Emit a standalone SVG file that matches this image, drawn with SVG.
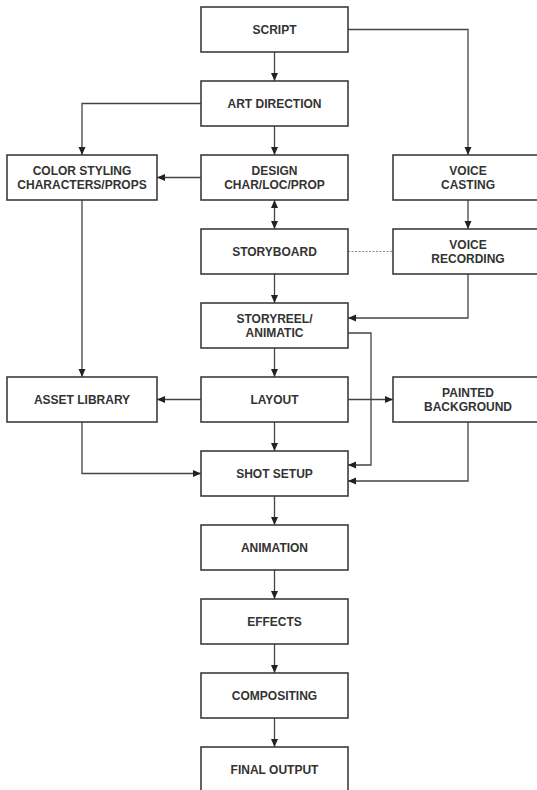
<svg xmlns="http://www.w3.org/2000/svg" width="537" height="790" viewBox="0 0 537 790">
<style>
.box{fill:#fff;stroke:#3c3c3c;stroke-width:1.6}
.t{font-family:"Liberation Sans",Arial,sans-serif;font-weight:bold;font-size:12px;fill:#333;text-anchor:middle}
.c{fill:none;stroke:#444;stroke-width:1.3}
.d{fill:none;stroke:#888;stroke-width:1.2;stroke-dasharray:2,1.5}
</style>
<defs>
<marker id="ah" markerUnits="userSpaceOnUse" markerWidth="8" markerHeight="8" refX="8" refY="4" orient="auto-start-reverse">
<path d="M0,0.5 L8,4 L0,7.5 z" fill="#222"/>
</marker>
</defs>
<rect width="537" height="790" fill="#fff"/>
<g id="connectors">
<path class="c" d="M274.5,52 V81" marker-end="url(#ah)"/>
<path class="c" d="M348,29.5 H468 V155" marker-end="url(#ah)"/>
<path class="c" d="M201,103.5 H82 V155" marker-end="url(#ah)"/>
<path class="c" d="M274.5,126 V155" marker-end="url(#ah)"/>
<path class="c" d="M201,177.5 H157" marker-end="url(#ah)"/>
<path class="c" d="M468,200 V229" marker-end="url(#ah)"/>
<path class="c" d="M274.5,200 V229" marker-start="url(#ah)" marker-end="url(#ah)"/>
<path class="d" d="M348,251.5 H393"/>
<path class="c" d="M274.5,273 V303" marker-end="url(#ah)"/>
<path class="c" d="M468,274 V318 H348" marker-end="url(#ah)"/>
<path class="c" d="M274.5,348 V377" marker-end="url(#ah)"/>
<path class="c" d="M348,333 H371 V465 H348" marker-end="url(#ah)"/>
<path class="c" d="M82,200 V377" marker-end="url(#ah)"/>
<path class="c" d="M201,399.5 H157" marker-end="url(#ah)"/>
<path class="c" d="M348,399.5 H393" marker-end="url(#ah)"/>
<path class="c" d="M274.5,422 V451" marker-end="url(#ah)"/>
<path class="c" d="M82,422 V473.5 H201" marker-end="url(#ah)"/>
<path class="c" d="M468,422 V481 H348" marker-end="url(#ah)"/>
<path class="c" d="M274.5,496 V525" marker-end="url(#ah)"/>
<path class="c" d="M274.5,570 V599" marker-end="url(#ah)"/>
<path class="c" d="M274.5,644 V673" marker-end="url(#ah)"/>
<path class="c" d="M274.5,718 V747" marker-end="url(#ah)"/>
</g>
<g id="script"><rect class="box" x="201" y="7" width="147" height="45"/><text class="t" x="274.5" y="34">SCRIPT</text></g>
<g id="art-direction"><rect class="box" x="201" y="81" width="147" height="45"/><text class="t" x="274.5" y="108">ART DIRECTION</text></g>
<g id="color-styling"><rect class="box" x="7" y="155" width="150" height="45"/><text class="t" x="82" y="175">COLOR STYLING</text><text class="t" x="82" y="189">CHARACTERS/PROPS</text></g>
<g id="design"><rect class="box" x="201" y="155" width="147" height="45"/><text class="t" x="274.5" y="175">DESIGN</text><text class="t" x="274.5" y="189">CHAR/LOC/PROP</text></g>
<g id="voice-casting"><rect class="box" x="393" y="155" width="150" height="45"/><text class="t" x="468" y="175">VOICE</text><text class="t" x="468" y="189">CASTING</text></g>
<g id="storyboard"><rect class="box" x="201" y="229" width="147" height="45"/><text class="t" x="274.5" y="256">STORYBOARD</text></g>
<g id="voice-recording"><rect class="box" x="393" y="229" width="150" height="45"/><text class="t" x="468" y="249">VOICE</text><text class="t" x="468" y="263">RECORDING</text></g>
<g id="storyreel"><rect class="box" x="201" y="303" width="147" height="45"/><text class="t" x="274.5" y="323">STORYREEL/</text><text class="t" x="274.5" y="337">ANIMATIC</text></g>
<g id="asset-library"><rect class="box" x="7" y="377" width="150" height="45"/><text class="t" x="82" y="404">ASSET LIBRARY</text></g>
<g id="layout"><rect class="box" x="201" y="377" width="147" height="45"/><text class="t" x="274.5" y="404">LAYOUT</text></g>
<g id="painted-background"><rect class="box" x="393" y="377" width="150" height="45"/><text class="t" x="468" y="397">PAINTED</text><text class="t" x="468" y="411">BACKGROUND</text></g>
<g id="shot-setup"><rect class="box" x="201" y="451" width="147" height="45"/><text class="t" x="274.5" y="478">SHOT SETUP</text></g>
<g id="animation"><rect class="box" x="201" y="525" width="147" height="45"/><text class="t" x="274.5" y="552">ANIMATION</text></g>
<g id="effects"><rect class="box" x="201" y="599" width="147" height="45"/><text class="t" x="274.5" y="626">EFFECTS</text></g>
<g id="compositing"><rect class="box" x="201" y="673" width="147" height="45"/><text class="t" x="274.5" y="700">COMPOSITING</text></g>
<g id="final-output"><rect class="box" x="201" y="747" width="147" height="45"/><text class="t" x="274.5" y="774">FINAL OUTPUT</text></g>
</svg>
